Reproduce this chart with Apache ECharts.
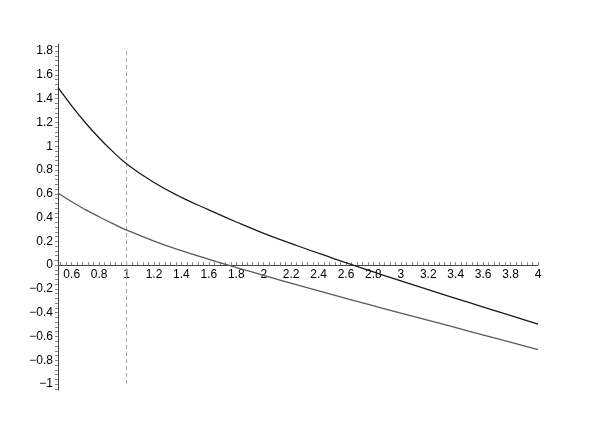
<!DOCTYPE html>
<html>
<head>
<meta charset="utf-8">
<script src="https://cdn.jsdelivr.net/npm/echarts@6/dist/echarts.min.js"></script>
<style>
  html, body { margin: 0; padding: 0; background: #fff; }
  #chart { width: 599px; height: 434px; }
</style>
</head>
<body>
<div id="chart"></div>
<script>
// sample positions along x
const xs = [0.5, 0.6, 0.7, 0.8, 0.9, 1.0, 1.2, 1.4, 1.6, 1.8, 2.0, 2.25, 2.5, 2.75, 3.0, 3.25, 3.5, 3.75, 4.0];
const upperCurve = [1.495, 1.34, 1.198, 1.07, 0.955, 0.852, 0.695, 0.57, 0.465, 0.363, 0.268, 0.161, 0.06, -0.038, -0.133, -0.225, -0.316, -0.406, -0.495];
const lowerCurve = [0.607, 0.533, 0.467, 0.407, 0.349, 0.295, 0.203, 0.122, 0.049, -0.02, -0.086, -0.168, -0.248, -0.326, -0.403, -0.479, -0.557, -0.633, -0.71];

// vertical dashed marker at x = 1
const markerX = [1, 1];
const markerY = [-1, 1.8];

const xLabels = [0.6, 0.8, 1, 1.2, 1.4, 1.6, 1.8, 2, 2.2, 2.4, 2.6, 2.8, 3, 3.2, 3.4, 3.6, 3.8, 4];
const yLabels = [-1, -0.8, -0.6, -0.4, -0.2, 0, 0.2, 0.4, 0.6, 0.8, 1, 1.2, 1.4, 1.6, 1.8];

const yMin = -1.05, yMax = 1.86;
const gridTop = 44, gridBottom = 44, chartH = 434;

function fineTicks(from, to, step) {
    const out = [];
    for (let v = from; v <= to + 1e-9; v += step) out.push(Math.round(v * 1000) / 1000);
    return out;
}

function fmt(v) {
    const s = String(Math.round(v * 100) / 100);
    return s.replace('-', '\u2212');
}

// lift the x axis (line, ticks and labels) up to y = 0
const gridH = chartH - gridTop - gridBottom;
const xAxisOffset = -(0 - yMin) / (yMax - yMin) * gridH;

const chart = echarts.init(document.getElementById('chart'));

const axisFont = { color: '#000', fontSize: 12, fontFamily: 'Liberation Sans, Arial, sans-serif' };

chart.setOption({
    animation: false,
    backgroundColor: '#fff',
    grid: { left: 58, right: 61, top: gridTop, bottom: gridBottom },
    xAxis: {
        type: 'value',
        min: 0.5,
        max: 4,
        position: 'bottom',
        offset: xAxisOffset,
        axisLine: { onZero: false, lineStyle: { color: '#444', width: 1 } },
        axisTick: {
            show: true,
            inside: true,
            length: 3,
            customValues: fineTicks(0.52, 4, 0.04),
            lineStyle: { color: '#888' }
        },
        axisLabel: Object.assign({
            customValues: xLabels,
            formatter: fmt,
            margin: 4
        }, axisFont),
        splitLine: { show: false }
    },
    yAxis: {
        type: 'value',
        min: yMin,
        max: yMax,
        axisLine: { show: true, onZero: false, lineStyle: { color: '#444', width: 1 } },
        axisTick: {
            show: true,
            length: 3,
            customValues: fineTicks(-1.04, 1.84, 0.04),
            lineStyle: { color: '#888' }
        },
        axisLabel: Object.assign({
            customValues: yLabels,
            formatter: fmt,
            margin: 5
        }, axisFont),
        splitLine: { show: false }
    },
    series: [
        {
            type: 'line',
            data: markerX.map((x, i) => [x, markerY[i]]),
            showSymbol: false,
            lineStyle: { color: '#aaa', width: 1, type: [4, 3] },
            z: 1
        },
        {
            type: 'line',
            data: xs.map((x, i) => [x, upperCurve[i]]),
            smooth: 0.5,
            showSymbol: false,
            lineStyle: { color: '#1a1a1a', width: 1.3 },
            z: 3
        },
        {
            type: 'line',
            data: xs.map((x, i) => [x, lowerCurve[i]]),
            smooth: 0.5,
            showSymbol: false,
            lineStyle: { color: '#5a5a5a', width: 1.3 },
            z: 2
        }
    ]
});
</script>
</body>
</html>
